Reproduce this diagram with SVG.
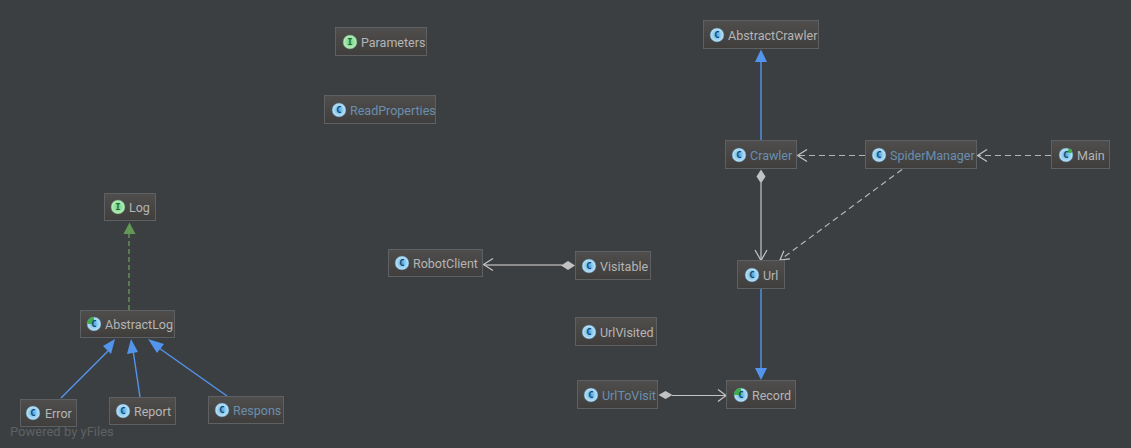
<svg xmlns="http://www.w3.org/2000/svg" width="1131" height="448" viewBox="0 0 1131 448">
<style>
.box{fill:url(#nodeFill);stroke:#5e6163;stroke-width:1}
.lbl{font-family:Roboto,"Noto Sans",sans-serif;font-size:12.500px;fill:#b5b5b5}
.blue{fill:#6a8fae}
.ic{font-family:"DejaVu Sans Mono","Liberation Mono",monospace;font-size:9px;font-weight:bold;fill:#0d4a73;text-anchor:middle}
.ii{fill:#1f6b2c}
.c{fill:url(#iconC);stroke:#3f6f8f;stroke-width:.5}
.i{fill:url(#iconI);stroke:#4f8f58;stroke-width:.5}
.inh{stroke:#5394ec;stroke-width:1.4;fill:none}
.impl{stroke:#629755;stroke-width:1.4;stroke-dasharray:5 3;fill:none}
.dep{stroke:#b4b4b4;stroke-width:1.200;stroke-dasharray:6 4;fill:none}
.ln{stroke:#c4c4c4;stroke-width:1.200;fill:none}
.open{stroke:#c4c4c4;stroke-width:1.200;fill:none}
.tb{fill:#5394ec}.tg{fill:#629755}.dm{fill:#c2c2c2}
</style>
<defs>
<linearGradient id="nodeFill" x1="0" y1="0" x2="0" y2="1"><stop offset="0" stop-color="#4f4e4d"/><stop offset="1" stop-color="#403e3c"/></linearGradient>
<radialGradient id="iconC" cx=".5" cy=".5" r=".55"><stop offset="0" stop-color="#4f9fd6"/><stop offset=".45" stop-color="#8ccbef"/><stop offset="1" stop-color="#cfeaf9"/></radialGradient>
<radialGradient id="iconI" cx=".5" cy=".5" r=".55"><stop offset="0" stop-color="#6fd07c"/><stop offset="1" stop-color="#c3f3c8"/></radialGradient>
</defs>
<rect width="1131" height="448" fill="#3c3f41"/>
<g id="connectors">
<path class="impl" d="M129 310V233"/><path class="tg" d="M129.500 222.500L135.500 234H123.500Z"/>
<path class="inh" d="M61 398L108 351"/><path class="tb" d="M115 339L111 354L103 346Z"/>
<path class="inh" d="M140 397L133 350"/><path class="tb" d="M131 339L138 352L127 354Z"/>
<path class="inh" d="M227 396L159 348"/><path class="tb" d="M148 339L164 344L157 353Z"/>
<path class="inh" d="M761 140V60"/><path class="tb" d="M761 49.500L767 62H755Z"/>
<path class="dep" d="M865 155.500H798"/><path class="open" d="M807 149.500L797.500 155.500L807 161.500"/>
<path class="dep" d="M1051 155.500H978"/><path class="open" d="M987 149.500L977.500 155.500L987 161.500"/>
<path class="dep" d="M902 169.500L780 260"/><path class="open" d="M789.900 258.800L780 260L783.900 250.800"/>
<path class="ln" d="M761 183V260"/><path class="dm" d="M761 169.500L765.500 176.500L761 183.500L756.500 176.500Z"/><path class="open" d="M755 250L761 260.500L767 250"/>
<path class="inh" d="M761 289V370"/><path class="tb" d="M761 380L755 368H767Z"/>
<path class="dep" d="M562 265H484" style="stroke-dasharray:none;stroke-width:1.600;stroke:#a8a8a8"/><path class="open" d="M493 258.500L483.500 264.500L493 270.500"/><path class="dm" d="M575 265.500L568 270L561 265.500L568 261Z"/>
<path class="ln" d="M672 395.500H725"/><path class="dm" d="M658.500 395L665.500 391L672.500 395L665.500 399Z"/><path class="open" d="M718 389.500L726 395.500L718 401.500"/>
</g>
<g id="Parameters"><rect class="box" x="335.500" y="27.500" width="91" height="28"/><circle class="i" cx="350" cy="42" r="7"/><text class="ic ii" x="350" y="45">I</text><text class="lbl" x="361" y="47">Parameters</text></g>
<g id="ReadProperties"><rect class="box" x="324.500" y="95.500" width="111" height="28"/><circle class="c" cx="339" cy="110" r="7"/><text class="ic" x="339" y="113">C</text><text class="lbl blue" x="350" y="115">ReadProperties</text></g>
<g id="AbstractCrawler"><rect class="box" x="703.500" y="20.500" width="115" height="28"/><circle class="c" cx="717" cy="35" r="7"/><text class="ic" x="717" y="38">C</text><text class="lbl" x="728" y="40">AbstractCrawler</text></g>
<g id="Crawler"><rect class="box" x="725.500" y="140.500" width="71" height="28"/><circle class="c" cx="739" cy="155" r="7"/><text class="ic" x="739" y="158">C</text><text class="lbl blue" x="750" y="160">Crawler</text></g>
<g id="SpiderManager"><rect class="box" x="865.500" y="140.500" width="111" height="28"/><circle class="c" cx="879" cy="155" r="7"/><text class="ic" x="879" y="158">C</text><text class="lbl blue" x="890" y="160">SpiderManager</text></g>
<g id="Main"><rect class="box" x="1051.500" y="140.500" width="58" height="28"/><circle class="c" cx="1066" cy="155" r="7"/><circle cx="1070" cy="151" r="2.200" fill="#3fae4a"/><text class="ic" x="1066" y="158">C</text><text class="lbl" x="1077" y="160">Main</text></g>
<g id="Url"><rect class="box" x="737.500" y="260.500" width="47" height="28"/><circle class="c" cx="752" cy="275" r="7"/><text class="ic" x="752" y="278">C</text><text class="lbl" x="763" y="280">Url</text></g>
<g id="RobotClient"><rect class="box" x="388.500" y="249.500" width="94" height="27"/><circle class="c" cx="402" cy="263" r="7"/><text class="ic" x="402" y="266">C</text><text class="lbl" x="413" y="268">RobotClient</text></g>
<g id="Visitable"><rect class="box" x="575.500" y="251.500" width="75" height="28"/><circle class="c" cx="589" cy="266" r="7"/><text class="ic" x="589" y="269">C</text><text class="lbl" x="600" y="271">Visitable</text></g>
<g id="UrlVisited"><rect class="box" x="575.500" y="317.500" width="81" height="28"/><circle class="c" cx="589" cy="332" r="7"/><text class="ic" x="589" y="335">C</text><text class="lbl" x="600" y="337">UrlVisited</text></g>
<g id="UrlToVisit"><rect class="box" x="577.500" y="380.500" width="80" height="28"/><circle class="c" cx="591" cy="395" r="7"/><text class="ic" x="591" y="398">C</text><text class="lbl blue" x="602" y="400">UrlToVisit</text></g>
<g id="Record"><rect class="box" x="726.500" y="380.500" width="69" height="28"/><circle class="c" cx="741" cy="395" r="7"/><path d="M741 388A7 7 0 0 0 734 395H741Z" fill="#3fae4a"/><text class="ic" x="741" y="398">C</text><text class="lbl" x="752" y="400">Record</text></g>
<g id="Log"><rect class="box" x="104.500" y="193.500" width="51" height="27"/><circle class="i" cx="118" cy="207" r="7"/><text class="ic ii" x="118" y="210">I</text><text class="lbl" x="129" y="212">Log</text></g>
<g id="AbstractLog"><rect class="box" x="80.500" y="310.500" width="94" height="27"/><circle class="c" cx="94" cy="324" r="7"/><path d="M94 317A7 7 0 0 0 87 324H94Z" fill="#3fae4a"/><text class="ic" x="94" y="327">C</text><text class="lbl" x="105" y="329">AbstractLog</text></g>
<g id="Error"><rect class="box" x="20.500" y="399.500" width="56" height="27"/><circle class="c" cx="33" cy="413" r="7"/><text class="ic" x="33" y="416">C</text><text class="lbl" x="45" y="418">Error</text></g>
<g id="Report"><rect class="box" x="109.500" y="397.500" width="66" height="27"/><circle class="c" cx="123" cy="411" r="7"/><text class="ic" x="123" y="414">C</text><text class="lbl" x="134" y="416">Report</text></g>
<g id="Respons"><rect class="box" x="208.500" y="396.500" width="75" height="27"/><circle class="c" cx="222" cy="410" r="7"/><text class="ic" x="222" y="413">C</text><text class="lbl blue" x="233" y="415">Respons</text></g>
<text x="10" y="436" font-family="Roboto,'Noto Sans',sans-serif" font-size="13" fill="#5f6264">Powered by yFiles</text>
</svg>
